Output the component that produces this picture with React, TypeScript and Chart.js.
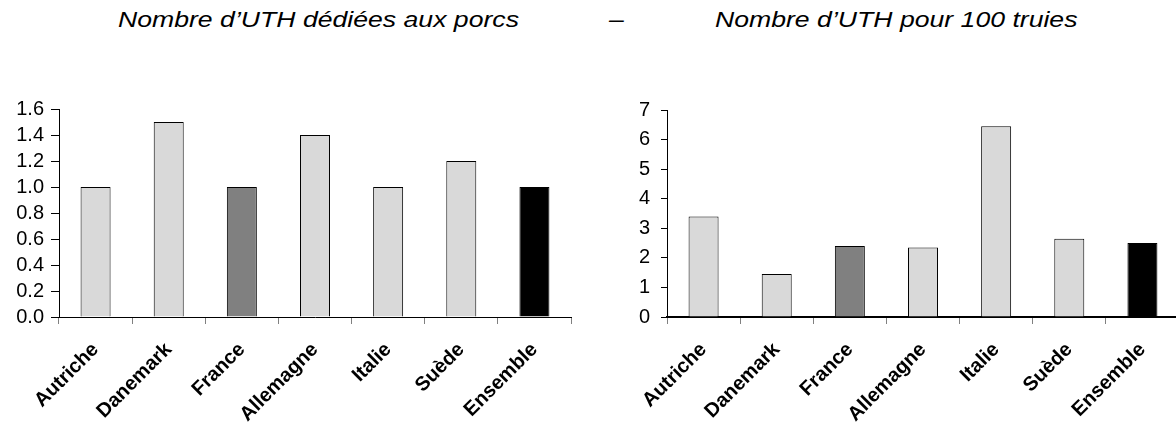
import { useEffect, useRef } from 'react';
import { Chart, registerables } from 'chart.js';

Chart.register(...registerables);

const categories = ['Autriche', 'Danemark', 'France', 'Allemagne', 'Italie', 'Suède', 'Ensemble'];
const uthPorcs = [1.0, 1.5, 1.0, 1.4, 1.0, 1.2, 1.0];
const uthPour100Truies = [3.4, 1.45, 2.4, 2.35, 6.45, 2.65, 2.5];
const leftTicks = { min: 0, max: 1.6, step: 0.2 };
const rightTicks = { min: 0, max: 7, step: 1 };

const FONT = '"Liberation Sans", Arial, Helvetica, sans-serif';

function barColor(cat: string) {
  if (cat === 'France') return '#808080';
  if (cat === 'Ensemble') return '#000000';
  return '#d9d9d9';
}

type Cfg = {
  values: number[];
  ticks: { min: number; max: number; step: number };
  decimals: number;
  yWidth: number;
  top: number;
  padRight: number;
  yTickLen: number;
  yPad: number;
  xBorderWidth: number;
  xBorderColor: string;
};

function makeChart(canvas: HTMLCanvasElement, c: Cfg) {
  return new Chart(canvas, {
    type: 'bar',
    data: {
      labels: categories,
      datasets: [
        {
          data: c.values,
          backgroundColor: categories.map(barColor),
          borderColor: '#000000',
          borderWidth: 1,
          categoryPercentage: 1,
          barPercentage: 0.41,
        },
      ],
    },
    options: {
      animation: false,
      responsive: false,
      devicePixelRatio: 1,
      layout: { padding: { top: c.top, right: c.padRight, bottom: 0, left: 0 } },
      plugins: { legend: { display: false }, tooltip: { enabled: false }, title: { display: false } },
      scales: {
        x: {
          grid: {
            drawOnChartArea: false,
            drawTicks: true,
            tickLength: 7,
            color: '#808080',
            lineWidth: 1,
            offset: true,
          },
          border: { display: true, color: c.xBorderColor, width: c.xBorderWidth },
          ticks: {
            autoSkip: false,
            minRotation: 45,
            maxRotation: 45,
            padding: 14,
            color: '#000000',
            font: { family: FONT, size: 20, weight: 'bold' },
          },
          afterFit: (s: any) => {
            s.height = 108;
          },
        },
        y: {
          min: c.ticks.min,
          max: c.ticks.max,
          grid: {
            drawOnChartArea: false,
            drawTicks: true,
            tickLength: c.yTickLen,
            color: '#000000',
            lineWidth: 1,
          },
          border: { display: true, color: '#000000', width: 1 },
          ticks: {
            autoSkip: false,
            stepSize: c.ticks.step,
            padding: c.yPad,
            color: '#000000',
            font: { family: FONT, size: 20 },
            callback: (v: any) => Number(v).toFixed(c.decimals),
          },
          afterFit: (s: any) => {
            s.width = c.yWidth;
          },
        },
      },
    },
  } as any);
}

export default function App() {
  const leftRef = useRef<HTMLCanvasElement>(null);
  const rightRef = useRef<HTMLCanvasElement>(null);

  useEffect(() => {
    const a = makeChart(leftRef.current!, {
      values: uthPorcs,
      ticks: leftTicks,
      decimals: 1,
      yWidth: 59,
      top: 109,
      padRight: 19,
      yTickLen: 8,
      yPad: 7,
      xBorderWidth: 1,
      xBorderColor: '#000000',
    });
    const b = makeChart(rightRef.current!, {
      values: uthPour100Truies,
      ticks: rightTicks,
      decimals: 0,
      yWidth: 67,
      top: 110,
      padRight: 21,
      yTickLen: 6,
      yPad: 11,
      xBorderWidth: 2,
      xBorderColor: '#000000',
    });
    return () => {
      a.destroy();
      b.destroy();
    };
  }, []);

  const titleStyle: React.CSSProperties = {
    position: 'absolute',
    top: 9,
    fontFamily: FONT,
    fontStyle: 'italic',
    fontSize: 22,
    lineHeight: '22px',
    color: '#000',
    whiteSpace: 'nowrap',
    transform: 'scaleX(1.21)',
    transformOrigin: '0 0',
  };

  return (
    <div
      style={{
        position: 'absolute',
        left: 0,
        top: 0,
        width: 1176,
        height: 425,
        overflow: 'hidden',
        background: '#ffffff',
      }}
    >
      <div style={{ ...titleStyle, left: 118 }}>Nombre d’UTH dédiées aux porcs</div>
      <div style={{ ...titleStyle, left: 609 }}>–</div>
      <div style={{ ...titleStyle, left: 715 }}>Nombre d’UTH pour 100 truies</div>
      <canvas
        ref={leftRef}
        width={590}
        height={425}
        style={{ position: 'absolute', left: 0, top: 0, width: 590, height: 425 }}
      />
      <canvas
        ref={rightRef}
        width={600}
        height={425}
        style={{ position: 'absolute', left: 600, top: 0, width: 600, height: 425 }}
      />
    </div>
  );
}
